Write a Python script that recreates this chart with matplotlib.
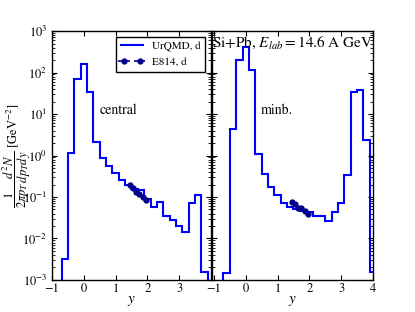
import numpy as np
import matplotlib
matplotlib.use("Agg")
import matplotlib.pyplot as plt

plt.rcParams['font.family'] = 'serif'
plt.rcParams['font.serif'] = ['STIXGeneral', 'Liberation Serif', 'DejaVu Serif']
plt.rcParams['mathtext.fontset'] = 'stix'

# rapidity bins (width 0.2)
edges_central = np.linspace(-0.7, 3.9, 24)
urqmd_central = [3.2e-3, 1.13, 68, 158, 34.5, 2.15, 0.86, 0.57, 0.385, 0.257,
                 0.2, 0.155, 0.145, 0.088, 0.058, 0.074, 0.035, 0.028, 0.02,
                 0.0141, 0.073, 0.112, 1.6e-3]

edges_minb = np.linspace(-0.7, 4.1, 25)
urqmd_minb = [1.5e-3, 4.4, 195, 420, 115, 1.07, 0.35, 0.174, 0.112, 0.07,
              0.058, 0.05, 0.045, 0.043, 0.034, 0.034, 0.026, 0.044, 0.071,
              0.33, 34.4, 37.8, 2.36, 1.58e-3]

# E814 deuterons
e814_y = [1.45, 1.55, 1.65, 1.75, 1.85, 1.95]
e814_central = [0.19, 0.165, 0.13, 0.115, 0.1, 0.087]
e814_minb = [0.077, 0.068, 0.055, 0.053, 0.045, 0.038]
e814_xerr = 0.05

fig = plt.figure(figsize=(4.15, 3.12), dpi=100)
ax1 = fig.add_axes([0.1253, 0.1026, 0.383, 0.798])
ax2 = fig.add_axes([0.5108, 0.1026, 0.388, 0.798])

for ax, edges, vals, dat in [(ax1, edges_central, urqmd_central, e814_central),
                             (ax2, edges_minb, urqmd_minb, e814_minb)]:
    ax.stairs(vals, edges, baseline=1e-6, color='#0000ff', lw=1.5, label='UrQMD, d')
    ax.errorbar(e814_y, dat, xerr=e814_xerr, fmt='o', color='#00008b', ms=3.5,
                elinewidth=1.2, capsize=0, label='E814, d')
    ax.set_yscale('log')
    ax.set_ylim(1e-3, 1e3)
    ax.tick_params(which='both', direction='in', top=True, right=True, labelsize=9)
    ax.tick_params(axis='x', pad=2.5)
    ax.set_xlabel('$y$', fontsize=11, labelpad=-1)
    for s in ax.spines.values():
        s.set_linewidth(1.0)

ax1.set_xlim(-1, 4)
ax1.set_xticks([-1, 0, 1, 2, 3])
ax2.set_xlim(-1.06, 4)
ax2.set_xticks([-1, 0, 1, 2, 3, 4])
ax2.tick_params(labelleft=False)

fig.text(0.003, 0.5, r'$\dfrac{1}{2\pi p_T}\dfrac{d^2N}{dp_T dy}$ [GeV$^{-2}$]',
         fontsize=9, rotation=90, ha='left', va='center')

ax1.text(0.5, 12, 'central', fontsize=10, va='center')
ax2.text(0.48, 12, 'minb.', fontsize=10, va='center')
ax2.text(0.0, 0.985, r'Si+Pb, $E_{lab}=14.6$ A GeV', transform=ax2.transAxes,
         fontsize=11, va='top', ha='left')

leg = ax1.legend(loc='upper right', fontsize=8, numpoints=2, fancybox=False,
                 framealpha=1, edgecolor='black', borderaxespad=0.55,
                 handlelength=2.0)
leg.get_frame().set_linewidth(1.0)

fig.savefig('out.png', dpi=100)
